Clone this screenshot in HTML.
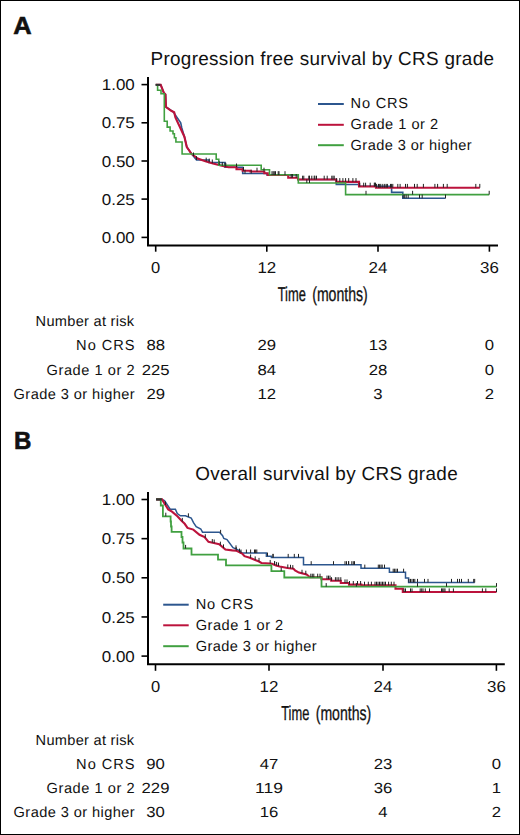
<!DOCTYPE html>
<html><head><meta charset="utf-8"><style>
html,body{margin:0;padding:0;background:#fff;}
body{width:520px;height:835px;overflow:hidden;position:relative;box-sizing:border-box;border:1px solid #000;}
svg{position:absolute;left:-1px;top:-1px;}
svg text{font-family:"Liberation Sans", sans-serif;fill:#111;text-rendering:geometricPrecision;}
</style></head><body>
<svg width="520" height="835" viewBox="0 0 520 835"><g>
<text x="13.2" y="33.9" font-size="24.8" text-anchor="start" font-weight="bold" textLength="18.4" lengthAdjust="spacingAndGlyphs" stroke="#111" stroke-width="0.6">A</text>
<text x="150.5" y="65" font-size="18.9" text-anchor="start" font-weight="normal" textLength="343.5" lengthAdjust="spacing">Progression free survival by CRS grade</text>
<path d="M148,77V245.4H498" stroke="#000" stroke-width="2" fill="none" stroke-linejoin="miter" stroke-linecap="butt"/>
<path d="M141.5,84.6H148" stroke="#000" stroke-width="1.6" fill="none" stroke-linejoin="miter" stroke-linecap="butt"/>
<text x="134.8" y="90.19999999999999" font-size="15.6" text-anchor="end" font-weight="normal" textLength="33" lengthAdjust="spacingAndGlyphs">1.00</text>
<path d="M141.5,122.8H148" stroke="#000" stroke-width="1.6" fill="none" stroke-linejoin="miter" stroke-linecap="butt"/>
<text x="134.8" y="128.4" font-size="15.6" text-anchor="end" font-weight="normal" textLength="33" lengthAdjust="spacingAndGlyphs">0.75</text>
<path d="M141.5,161H148" stroke="#000" stroke-width="1.6" fill="none" stroke-linejoin="miter" stroke-linecap="butt"/>
<text x="134.8" y="166.6" font-size="15.6" text-anchor="end" font-weight="normal" textLength="33" lengthAdjust="spacingAndGlyphs">0.50</text>
<path d="M141.5,199.1H148" stroke="#000" stroke-width="1.6" fill="none" stroke-linejoin="miter" stroke-linecap="butt"/>
<text x="134.8" y="204.7" font-size="15.6" text-anchor="end" font-weight="normal" textLength="33" lengthAdjust="spacingAndGlyphs">0.25</text>
<path d="M141.5,237.4H148" stroke="#000" stroke-width="1.6" fill="none" stroke-linejoin="miter" stroke-linecap="butt"/>
<text x="134.8" y="243.0" font-size="15.6" text-anchor="end" font-weight="normal" textLength="33" lengthAdjust="spacingAndGlyphs">0.00</text>
<path d="M155.7,245.4V251.7" stroke="#000" stroke-width="1.6" fill="none" stroke-linejoin="miter" stroke-linecap="butt"/>
<text x="155.7" y="273" font-size="15.8" text-anchor="middle" font-weight="normal" textLength="9.2" lengthAdjust="spacingAndGlyphs">0</text>
<path d="M266.8,245.4V251.7" stroke="#000" stroke-width="1.6" fill="none" stroke-linejoin="miter" stroke-linecap="butt"/>
<text x="266.8" y="273" font-size="15.8" text-anchor="middle" font-weight="normal" textLength="18.8" lengthAdjust="spacingAndGlyphs">12</text>
<path d="M378,245.4V251.7" stroke="#000" stroke-width="1.6" fill="none" stroke-linejoin="miter" stroke-linecap="butt"/>
<text x="378" y="273" font-size="15.8" text-anchor="middle" font-weight="normal" textLength="18.8" lengthAdjust="spacingAndGlyphs">24</text>
<path d="M489.4,245.4V251.7" stroke="#000" stroke-width="1.6" fill="none" stroke-linejoin="miter" stroke-linecap="butt"/>
<text x="489.4" y="273" font-size="15.8" text-anchor="middle" font-weight="normal" textLength="18.8" lengthAdjust="spacingAndGlyphs">36</text>
<text x="277.7" y="300.9" font-size="20.0" text-anchor="start" font-weight="normal" textLength="28.2" lengthAdjust="spacingAndGlyphs" stroke="#111" stroke-width="0.3">Time</text>
<text x="312.2" y="300.9" font-size="20.0" text-anchor="start" font-weight="normal" textLength="55.6" lengthAdjust="spacingAndGlyphs" stroke="#111" stroke-width="0.3">(months)</text>
<path d="M318,104H343.8" stroke="#2c568e" stroke-width="2" fill="none" stroke-linejoin="miter" stroke-linecap="butt"/>
<path d="M318,124.8H343.8" stroke="#bc133c" stroke-width="2" fill="none" stroke-linejoin="miter" stroke-linecap="butt"/>
<path d="M318,145.2H343.8" stroke="#40a040" stroke-width="2" fill="none" stroke-linejoin="miter" stroke-linecap="butt"/>
<text x="350.6" y="108.3" font-size="14.6" text-anchor="start" font-weight="normal" textLength="57.5" lengthAdjust="spacing">No CRS</text>
<text x="350.6" y="129.3" font-size="14.6" text-anchor="start" font-weight="normal" textLength="87.5" lengthAdjust="spacing">Grade 1 or 2</text>
<text x="350.6" y="150.1" font-size="14.6" text-anchor="start" font-weight="normal" textLength="121" lengthAdjust="spacing">Grade 3 or higher</text>
<text x="35.6" y="326.3" font-size="14.6" text-anchor="start" font-weight="normal" textLength="98.5" lengthAdjust="spacing">Number at risk</text>
<text x="134.6" y="350.4" font-size="14.6" text-anchor="end" font-weight="normal" textLength="58.5" lengthAdjust="spacing">No CRS</text>
<text x="155.7" y="350.4" font-size="14.6" text-anchor="middle" font-weight="normal" textLength="18.6" lengthAdjust="spacingAndGlyphs">88</text>
<text x="266.8" y="350.4" font-size="14.6" text-anchor="middle" font-weight="normal" textLength="18.6" lengthAdjust="spacingAndGlyphs">29</text>
<text x="378" y="350.4" font-size="14.6" text-anchor="middle" font-weight="normal" textLength="18.6" lengthAdjust="spacingAndGlyphs">13</text>
<text x="489.4" y="350.4" font-size="14.6" text-anchor="middle" font-weight="normal" textLength="9.3" lengthAdjust="spacingAndGlyphs">0</text>
<text x="134.6" y="374.9" font-size="14.6" text-anchor="end" font-weight="normal" textLength="88" lengthAdjust="spacing">Grade 1 or 2</text>
<text x="155.7" y="374.9" font-size="14.6" text-anchor="middle" font-weight="normal" textLength="27.900000000000002" lengthAdjust="spacingAndGlyphs">225</text>
<text x="266.8" y="374.9" font-size="14.6" text-anchor="middle" font-weight="normal" textLength="18.6" lengthAdjust="spacingAndGlyphs">84</text>
<text x="378" y="374.9" font-size="14.6" text-anchor="middle" font-weight="normal" textLength="18.6" lengthAdjust="spacingAndGlyphs">28</text>
<text x="489.4" y="374.9" font-size="14.6" text-anchor="middle" font-weight="normal" textLength="9.3" lengthAdjust="spacingAndGlyphs">0</text>
<text x="134.6" y="399.1" font-size="14.6" text-anchor="end" font-weight="normal" textLength="121" lengthAdjust="spacing">Grade 3 or higher</text>
<text x="155.7" y="399.1" font-size="14.6" text-anchor="middle" font-weight="normal" textLength="18.6" lengthAdjust="spacingAndGlyphs">29</text>
<text x="266.8" y="399.1" font-size="14.6" text-anchor="middle" font-weight="normal" textLength="18.6" lengthAdjust="spacingAndGlyphs">12</text>
<text x="378" y="399.1" font-size="14.6" text-anchor="middle" font-weight="normal" textLength="9.3" lengthAdjust="spacingAndGlyphs">3</text>
<text x="489.4" y="399.1" font-size="14.6" text-anchor="middle" font-weight="normal" textLength="9.3" lengthAdjust="spacingAndGlyphs">2</text>
<path d="M155.8,84.8H160.7L163.8,92.7L165.5,94.5L166,107L171.5,110.6L173.5,112.2L180.7,122.8L181.8,128L184.4,136.7L186.8,147L191.5,153.8L196.5,160H209V162.5H225V167.3H242.7V173.5H267V175H298V179.5H336.3V184.5H359V186.3H391.6V192.4H402.8V198.3H445.5" stroke="#2c568e" stroke-width="1.6" fill="none" stroke-linejoin="miter" stroke-linecap="butt"/>
<path d="M155.8,84.8H160.7L163.8,92.7L165.5,94.5L166,107L171.2,110.8L174.2,112.3L175.4,117.5L184.4,136.7L186.8,147L191.5,153.8L197.7,158.5L205.4,161.2L213,163.5L220.8,165.4L228.5,167.3H236.5V169.2H242.7V170.8H250.4V171.5H264.3V173.2H267.8V175H288.2V177.8H298V179.5H336.3V181.9H359V186.5H376V187.7H479.8" stroke="#bc133c" stroke-width="2.1" fill="none" stroke-linejoin="miter" stroke-linecap="butt"/>
<path d="M155.8,84.8H157.6V90.2H161V93.8H164.3V121.3H167.2V127.1H170.1V131H173V133.8H174.4V137.7H175.9V142H182.1V154H216.2V159.2H218.8V165.2H261.2V169.7H269.5V174.7H298.3V183H345.6V194.6H489.2" stroke="#40a040" stroke-width="1.6" fill="none" stroke-linejoin="miter" stroke-linecap="butt"/>
<path d="M193.5,156.28v-3.8M196.5,160.0v-3.8M245,173.5v-3.8M251.2,173.5v-3.8M403.2,198.3v-3.8M404.7,198.3v-3.8M406.2,198.3v-3.8M408.2,198.3v-3.8M419.5,198.3v-3.8M422.2,198.3v-3.8M445.5,198.3v-3.8" stroke="#222" stroke-width="1.0" fill="none" stroke-linejoin="miter" stroke-linecap="butt"/>
<path d="M206.2,161.44v-3.8M209.2,162.35v-3.8M212.3,163.29v-3.8M219.2,165.01v-3.8M222.3,165.77v-3.8M225,166.44v-3.8M225.8,166.63v-3.8M236.5,167.3v-3.8M243.5,170.8v-3.8M257,171.5v-3.8M264,171.5v-3.8M272,175.0v-3.8M273.2,175.0v-3.8M274.3,175.0v-3.8M275.5,175.0v-3.8M278.2,175.0v-3.8M279,175.0v-3.8M285,175.0v-3.8M291.2,177.8v-3.8M292.4,177.8v-3.8M296.2,177.8v-3.8M302.6,179.5v-3.8M303.8,179.5v-3.8M308.8,179.5v-3.8M309.5,179.5v-3.8M311.8,179.5v-3.8M314.2,179.5v-3.8M314.9,179.5v-3.8M316.5,179.5v-3.8M324.2,179.5v-3.8M327.2,179.5v-3.8M331.8,179.5v-3.8M333,179.5v-3.8M334.2,179.5v-3.8M336.4,181.9v-3.8M339.8,181.9v-3.8M342.9,181.9v-3.8M345.6,181.9v-3.8M348.7,181.9v-3.8M352.9,181.9v-3.8M356,181.9v-3.8M359.8,186.5v-3.8M363.7,186.5v-3.8M365.6,186.5v-3.8M370.2,186.5v-3.8M374.8,186.5v-3.8M374.3,186.5v-3.8M375.5,186.5v-3.8M376.6,187.7v-3.8M378.5,187.7v-3.8M379.7,187.7v-3.8M380.8,187.7v-3.8M382.8,187.7v-3.8M384.7,187.7v-3.8M386.2,187.7v-3.8M387.4,187.7v-3.8M390.5,187.7v-3.8M391.6,187.7v-3.8M392.8,187.7v-3.8M397.8,187.7v-3.8M400.1,187.7v-3.8M405.5,187.7v-3.8M407.4,187.7v-3.8M414.5,187.7v-3.8M417.2,187.7v-3.8M423.4,187.7v-3.8M434.9,187.7v-3.8M437.6,187.7v-3.8M443.4,187.7v-3.8M447.2,187.7v-3.8M475.8,187.7v-3.8M479.8,187.7v-3.8" stroke="#222" stroke-width="1.0" fill="none" stroke-linejoin="miter" stroke-linecap="butt"/>
<path d="M306.8,183.0v-3.8M309.5,183.0v-3.8M366,194.6v-3.8M412.6,194.6v-3.8M489.2,194.6v-3.8" stroke="#222" stroke-width="1.0" fill="none" stroke-linejoin="miter" stroke-linecap="butt"/>
<path d="M155.6,84.8H160.4" stroke="#333" stroke-width="2" fill="none" stroke-linejoin="miter" stroke-linecap="butt"/>
<text x="14.0" y="448.8" font-size="24.8" text-anchor="start" font-weight="bold" textLength="17.4" lengthAdjust="spacingAndGlyphs" stroke="#111" stroke-width="0.6">B</text>
<text x="195.2" y="480" font-size="18.9" text-anchor="start" font-weight="normal" textLength="262.5" lengthAdjust="spacing">Overall survival by CRS grade</text>
<path d="M148,492V664.2H504.8" stroke="#000" stroke-width="2" fill="none" stroke-linejoin="miter" stroke-linecap="butt"/>
<path d="M141.5,499.50H148" stroke="#000" stroke-width="1.6" fill="none" stroke-linejoin="miter" stroke-linecap="butt"/>
<text x="134.8" y="505.1" font-size="15.6" text-anchor="end" font-weight="normal" textLength="33" lengthAdjust="spacingAndGlyphs">1.00</text>
<path d="M141.5,538.65H148" stroke="#000" stroke-width="1.6" fill="none" stroke-linejoin="miter" stroke-linecap="butt"/>
<text x="134.8" y="544.25" font-size="15.6" text-anchor="end" font-weight="normal" textLength="33" lengthAdjust="spacingAndGlyphs">0.75</text>
<path d="M141.5,577.80H148" stroke="#000" stroke-width="1.6" fill="none" stroke-linejoin="miter" stroke-linecap="butt"/>
<text x="134.8" y="583.4" font-size="15.6" text-anchor="end" font-weight="normal" textLength="33" lengthAdjust="spacingAndGlyphs">0.50</text>
<path d="M141.5,616.95H148" stroke="#000" stroke-width="1.6" fill="none" stroke-linejoin="miter" stroke-linecap="butt"/>
<text x="134.8" y="622.55" font-size="15.6" text-anchor="end" font-weight="normal" textLength="33" lengthAdjust="spacingAndGlyphs">0.25</text>
<path d="M141.5,656.10H148" stroke="#000" stroke-width="1.6" fill="none" stroke-linejoin="miter" stroke-linecap="butt"/>
<text x="134.8" y="661.7" font-size="15.6" text-anchor="end" font-weight="normal" textLength="33" lengthAdjust="spacingAndGlyphs">0.00</text>
<path d="M155.5,664.2V670.8" stroke="#000" stroke-width="1.6" fill="none" stroke-linejoin="miter" stroke-linecap="butt"/>
<text x="155.5" y="691.5" font-size="15.8" text-anchor="middle" font-weight="normal" textLength="9.2" lengthAdjust="spacingAndGlyphs">0</text>
<path d="M269,664.2V670.8" stroke="#000" stroke-width="1.6" fill="none" stroke-linejoin="miter" stroke-linecap="butt"/>
<text x="269" y="691.5" font-size="15.8" text-anchor="middle" font-weight="normal" textLength="18.8" lengthAdjust="spacingAndGlyphs">12</text>
<path d="M383,664.2V670.8" stroke="#000" stroke-width="1.6" fill="none" stroke-linejoin="miter" stroke-linecap="butt"/>
<text x="383" y="691.5" font-size="15.8" text-anchor="middle" font-weight="normal" textLength="18.8" lengthAdjust="spacingAndGlyphs">24</text>
<path d="M496.4,664.2V670.8" stroke="#000" stroke-width="1.6" fill="none" stroke-linejoin="miter" stroke-linecap="butt"/>
<text x="496.4" y="691.5" font-size="15.8" text-anchor="middle" font-weight="normal" textLength="18.8" lengthAdjust="spacingAndGlyphs">36</text>
<text x="281.2" y="719.8" font-size="20.2" text-anchor="start" font-weight="normal" textLength="28.2" lengthAdjust="spacingAndGlyphs" stroke="#111" stroke-width="0.3">Time</text>
<text x="315.7" y="719.8" font-size="20.2" text-anchor="start" font-weight="normal" textLength="55.6" lengthAdjust="spacingAndGlyphs" stroke="#111" stroke-width="0.3">(months)</text>
<path d="M156.2,499.4H162L164.5,500.5L170.2,509.2H175.4L177.3,513.5L180.4,515.8H185.4L191.2,518L193.5,522.7L196.2,526.7L200.8,529L202.5,532.2H219.5L222.6,535.7L223.8,538.5L227,539.6L233,547.7L237.5,549.6L240.6,551.5V553.1H266.4V556.2H271.4V557.5H303.5V564.8H361V568.2H389.4V572.3H405.5V578.1H408.6V582.5H474.7" stroke="#2c568e" stroke-width="1.5" fill="none" stroke-linejoin="miter" stroke-linecap="butt"/>
<path d="M156.2,499.4H162L168.2,509.4L172,511.7L177.4,516.3L181.8,521L184.7,523.8L187.5,527.9L193.3,529.6L199.5,534.8L204.6,537L208.5,541.8L213.8,543L219.2,544.2L225.4,549.6L232.3,550.4L236,550.6L242.2,553.5L244.5,556.2L249.8,557.7L255.2,560L259,561.5L261.4,563L269.8,563.5L272,563.8L276,565.4L279.7,566.5L287.4,568L293.5,568.8L295,570.3L298.9,572.6L306.6,574.5L310,577.3H321.5V579.2H331.2V580.8H340.8V583H349V584.6H361.4V585.3H395.5V588.8H402.8V592H496.5" stroke="#bc133c" stroke-width="2.1" fill="none" stroke-linejoin="miter" stroke-linecap="butt"/>
<path d="M156.2,499.4H160.8V505.5H162.9V516.3H170.6V521.5H171V526.5H171.6V531.9H181.5V537H182.5V542.5H183.5V548.5H191.5V554.6H218V559.6H226V565.4H271.4V571.1H284.3V577.5H321.5V586.7H496.5" stroke="#40a040" stroke-width="1.8" fill="none" stroke-linejoin="miter" stroke-linecap="butt"/>
<path d="M188.4,516.94v-3.6M220.6,533.44v-3.6M236,548.97v-3.6M241,553.1v-3.6M246.4,553.1v-3.6M250.6,553.1v-3.6M254.5,553.1v-3.6M255.6,553.1v-3.6M256.8,553.1v-3.6M267.5,556.2v-3.6M272.9,557.5v-3.6M273.2,557.5v-3.6M288.2,557.5v-3.6M294.3,557.5v-3.6M298.5,557.5v-3.6M311.2,564.8v-3.6M333.5,564.8v-3.6M345,564.8v-3.6M346.5,564.8v-3.6M348.5,564.8v-3.6M348.7,564.8v-3.6M351.8,564.8v-3.6M353.3,564.8v-3.6M354.5,564.8v-3.6M364.8,568.2v-3.6M378.3,568.2v-3.6M379.6,568.2v-3.6M381,568.2v-3.6M382.2,568.2v-3.6M384.5,568.2v-3.6M393.2,572.3v-3.6M394.6,572.3v-3.6M396,572.3v-3.6M397.5,572.3v-3.6M403.6,572.3v-3.6M408.9,582.5v-3.6M410.5,582.5v-3.6M412,582.5v-3.6M413.5,582.5v-3.6M414.8,582.5v-3.6M417.5,582.5v-3.6M424.5,582.5v-3.6M428,582.5v-3.6M451.5,582.5v-3.6M457.5,582.5v-3.6M459.5,582.5v-3.6M461.5,582.5v-3.6M468.3,582.5v-3.6M473.7,582.5v-3.6M474.7,582.5v-3.6" stroke="#222" stroke-width="1.0" fill="none" stroke-linejoin="miter" stroke-linecap="butt"/>
<path d="M165.5,505.05v-3.6M182.3,521.48v-3.6M205.3,537.86v-3.6M212.3,542.66v-3.6M214.2,543.09v-3.6M220.4,545.25v-3.6M223.5,547.95v-3.6M236.2,550.69v-3.6M239.5,552.24v-3.6M250.6,558.04v-3.6M255.2,560.0v-3.6M259,561.5v-3.6M270.2,563.55v-3.6M274.5,564.8v-3.6M274.7,564.88v-3.6M276.6,565.58v-3.6M278.5,566.14v-3.6M287.8,568.05v-3.6M290.5,568.41v-3.6M292.8,568.71v-3.6M302,573.36v-3.6M305.8,574.3v-3.6M310.8,577.3v-3.6M312.3,577.3v-3.6M313.8,577.3v-3.6M317.7,577.3v-3.6M320,577.3v-3.6M327,579.2v-3.6M328.5,579.2v-3.6M330,579.2v-3.6M331.5,580.8v-3.6M335.4,580.8v-3.6M337,580.8v-3.6M338.8,580.8v-3.6M340.8,580.8v-3.6M345,583.0v-3.6M347,583.0v-3.6M349.5,584.6v-3.6M353.3,584.6v-3.6M357.5,584.6v-3.6M360.6,584.6v-3.6M364.5,585.3v-3.6M368.3,585.3v-3.6M371.4,585.3v-3.6M375,585.3v-3.6M376.5,585.3v-3.6M378,585.3v-3.6M379.5,585.3v-3.6M381,585.3v-3.6M382.5,585.3v-3.6M384,585.3v-3.6M385.5,585.3v-3.6M388.6,585.3v-3.6M391.3,585.3v-3.6M394,585.3v-3.6M404,592.0v-3.6M405.5,592.0v-3.6M410.5,592.0v-3.6M412,592.0v-3.6M420.2,592.0v-3.6M421.7,592.0v-3.6M423,592.0v-3.6M425.3,592.0v-3.6M429.5,592.0v-3.6M441.5,592.0v-3.6M442.7,592.0v-3.6M443.9,592.0v-3.6M445,592.0v-3.6M449.2,592.0v-3.6M453.4,592.0v-3.6M482.4,592.0v-3.6M485.8,592.0v-3.6M496.5,592.0v-3.6" stroke="#222" stroke-width="1.0" fill="none" stroke-linejoin="miter" stroke-linecap="butt"/>
<path d="M165.8,516.3v-3.6M185.6,548.5v-3.6M281.2,571.1v-3.6M326.2,586.7v-3.6M356.4,586.7v-3.6M417.5,586.7v-3.6M446.5,586.7v-3.6M496.5,586.7v-3.6" stroke="#222" stroke-width="1.0" fill="none" stroke-linejoin="miter" stroke-linecap="butt"/>
<path d="M156,499.4H161.8" stroke="#333" stroke-width="2.2" fill="none" stroke-linejoin="miter" stroke-linecap="butt"/>
<rect x="158" y="594" width="165" height="62" fill="#fff"/>
<path d="M163.2,604.7H188.7" stroke="#2c568e" stroke-width="2" fill="none" stroke-linejoin="miter" stroke-linecap="butt"/>
<path d="M163.2,625.3H188.7" stroke="#bc133c" stroke-width="2" fill="none" stroke-linejoin="miter" stroke-linecap="butt"/>
<path d="M163.2,646.2H188.7" stroke="#40a040" stroke-width="2" fill="none" stroke-linejoin="miter" stroke-linecap="butt"/>
<text x="195.7" y="609.4" font-size="14.6" text-anchor="start" font-weight="normal" textLength="57.5" lengthAdjust="spacing">No CRS</text>
<text x="195.7" y="630.4" font-size="14.6" text-anchor="start" font-weight="normal" textLength="87.5" lengthAdjust="spacing">Grade 1 or 2</text>
<text x="195.7" y="651.2" font-size="14.6" text-anchor="start" font-weight="normal" textLength="121" lengthAdjust="spacing">Grade 3 or higher</text>
<text x="35.6" y="745.3" font-size="14.6" text-anchor="start" font-weight="normal" textLength="98.5" lengthAdjust="spacing">Number at risk</text>
<text x="134.6" y="769" font-size="14.6" text-anchor="end" font-weight="normal" textLength="58.5" lengthAdjust="spacing">No CRS</text>
<text x="155.5" y="769" font-size="14.6" text-anchor="middle" font-weight="normal" textLength="18.6" lengthAdjust="spacingAndGlyphs">90</text>
<text x="269" y="769" font-size="14.6" text-anchor="middle" font-weight="normal" textLength="18.6" lengthAdjust="spacingAndGlyphs">47</text>
<text x="383" y="769" font-size="14.6" text-anchor="middle" font-weight="normal" textLength="18.6" lengthAdjust="spacingAndGlyphs">23</text>
<text x="496.4" y="769" font-size="14.6" text-anchor="middle" font-weight="normal" textLength="9.3" lengthAdjust="spacingAndGlyphs">0</text>
<text x="134.6" y="793" font-size="14.6" text-anchor="end" font-weight="normal" textLength="88" lengthAdjust="spacing">Grade 1 or 2</text>
<text x="155.5" y="793" font-size="14.6" text-anchor="middle" font-weight="normal" textLength="27.900000000000002" lengthAdjust="spacingAndGlyphs">229</text>
<text x="269" y="793" font-size="14.6" text-anchor="middle" font-weight="normal" textLength="27.900000000000002" lengthAdjust="spacingAndGlyphs">119</text>
<text x="383" y="793" font-size="14.6" text-anchor="middle" font-weight="normal" textLength="18.6" lengthAdjust="spacingAndGlyphs">36</text>
<text x="496.4" y="793" font-size="14.6" text-anchor="middle" font-weight="normal" textLength="9.3" lengthAdjust="spacingAndGlyphs">1</text>
<text x="134.6" y="817.4" font-size="14.6" text-anchor="end" font-weight="normal" textLength="121" lengthAdjust="spacing">Grade 3 or higher</text>
<text x="155.5" y="817.4" font-size="14.6" text-anchor="middle" font-weight="normal" textLength="18.6" lengthAdjust="spacingAndGlyphs">30</text>
<text x="269" y="817.4" font-size="14.6" text-anchor="middle" font-weight="normal" textLength="18.6" lengthAdjust="spacingAndGlyphs">16</text>
<text x="383" y="817.4" font-size="14.6" text-anchor="middle" font-weight="normal" textLength="9.3" lengthAdjust="spacingAndGlyphs">4</text>
<text x="496.4" y="817.4" font-size="14.6" text-anchor="middle" font-weight="normal" textLength="9.3" lengthAdjust="spacingAndGlyphs">2</text>
</g>
</svg>
</body></html>
